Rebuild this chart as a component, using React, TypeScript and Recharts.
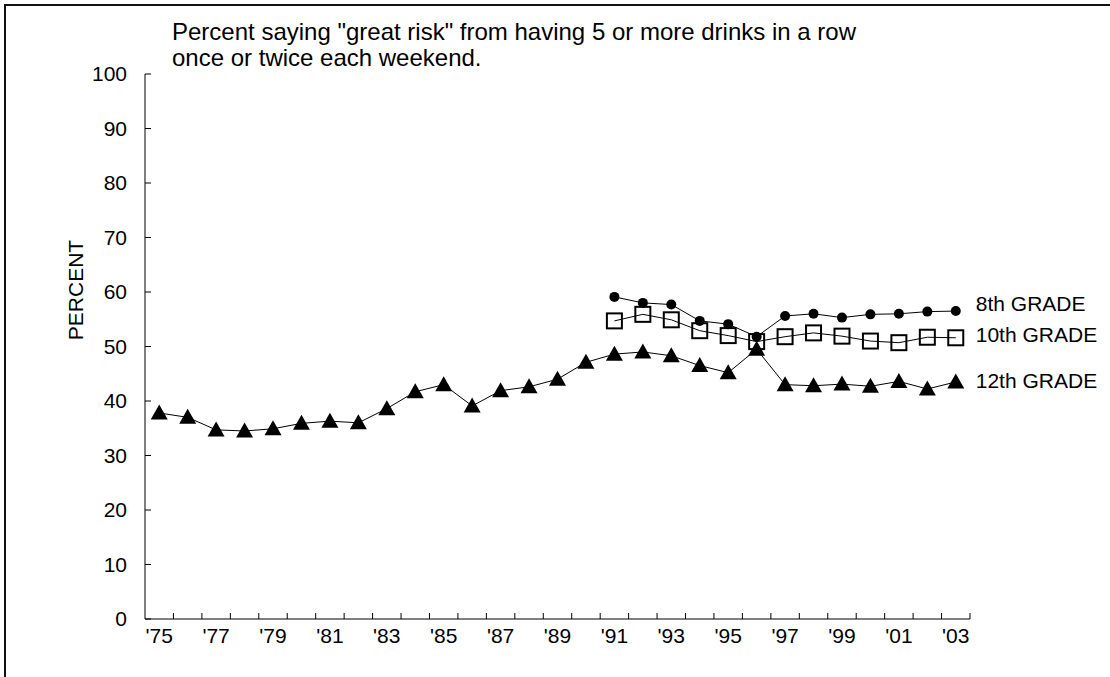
import React from 'react';
import { LineChart, Line, XAxis, YAxis, LabelList, Label } from 'recharts';

const years = [1975, 1976, 1977, 1978, 1979, 1980, 1981, 1982, 1983, 1984, 1985, 1986, 1987, 1988, 1989, 1990, 1991, 1992, 1993, 1994, 1995, 1996, 1997, 1998, 1999, 2000, 2001, 2002, 2003];
const grade12 = [37.8, 37.0, 34.7, 34.5, 34.9, 35.9, 36.3, 36.0, 38.6, 41.7, 43.0, 39.1, 41.9, 42.6, 44.0, 47.1, 48.6, 49.0, 48.3, 46.5, 45.2, 49.5, 43.0, 42.8, 43.1, 42.7, 43.6, 42.2, 43.5];
const grade10 = [null, null, null, null, null, null, null, null, null, null, null, null, null, null, null, null, 54.7, 55.9, 54.9, 52.9, 52.0, 50.9, 51.8, 52.5, 51.9, 51.0, 50.7, 51.7, 51.6];
const grade8 = [null, null, null, null, null, null, null, null, null, null, null, null, null, null, null, null, 59.1, 58.0, 57.7, 54.7, 54.1, 51.8, 55.6, 56.0, 55.3, 55.9, 56.0, 56.4, 56.5];
const yTicks = [0, 10, 20, 30, 40, 50, 60, 70, 80, 90, 100];
const seriesLabels = { g8: '8th GRADE', g10: '10th GRADE', g12: '12th GRADE' };
const titleLines = ['Percent saying "great risk" from having 5 or more drinks in a row', 'once or twice each weekend.'];
const yLabel = 'PERCENT';

const data = years.map((y, i) => ({ year: y, g12: grade12[i], g10: grade10[i], g8: grade8[i] }));

const FONT = '"Liberation Sans", Arial, sans-serif';
const TICK_FS = 21;
const W = 1110;
const H = 677;
const PLOT_LEFT = 145;
const PLOT_RIGHT = 970;
const PLOT_TOP = 74;
const PLOT_BOTTOM = 619;
const Y_AXIS_W = 60;
const X_AXIS_H = 40;
const HALF_BAND = (PLOT_RIGHT - PLOT_LEFT) / years.length / 2;

const XTick = (props: any) => {
  const { x, y, payload } = props;
  const yr = payload.value as number;
  const show = yr % 2 === 1;
  return (
    <g>
      <line x1={x + HALF_BAND} x2={x + HALF_BAND} y1={y} y2={y - 6} stroke="#000" strokeWidth={1} />
      {show && (
        <text x={x} y={y + 24} textAnchor="middle" fontSize={TICK_FS} fontFamily={FONT} fill="#000">
          {"'" + String(yr).slice(2)}
        </text>
      )}
    </g>
  );
};

const YTick = (props: any) => {
  const { x, y, payload } = props;
  return (
    <g>
      <line x1={x} x2={x + 6} y1={y} y2={y} stroke="#000" strokeWidth={1} />
      <text x={x - 18} y={y + 7} textAnchor="end" fontSize={TICK_FS} fontFamily={FONT} fill="#000">
        {payload.value}
      </text>
    </g>
  );
};

const TriDot = (props: any) => {
  const { cx, cy, index } = props;
  if (cx == null || cy == null || props.value == null) return <g key={'t' + index} />;
  return <path key={'t' + index} d={`M${cx},${cy - 8.5} L${cx + 8.5},${cy + 6.5} L${cx - 8.5},${cy + 6.5} Z`} fill="#000" />;
};
const SquareDot = (props: any) => {
  const { cx, cy, index } = props;
  if (cx == null || cy == null || props.value == null) return <g key={'s' + index} />;
  return <rect key={'s' + index} x={cx - 7.5} y={cy - 7.5} width={15} height={15} fill="none" stroke="#000" strokeWidth={2} />;
};
const CircleDot = (props: any) => {
  const { cx, cy, index } = props;
  if (cx == null || cy == null || props.value == null) return <g key={'c' + index} />;
  return <circle key={'c' + index} cx={cx} cy={cy} r={5} fill="#000" />;
};

const makeEndLabel = (text: string, dy: number) => (props: any) => {
  const { x, y, index } = props;
  if (index !== years.length - 1) return null;
  return (
    <text x={x + 20} y={y + dy} fontSize={TICK_FS} fontFamily={FONT} fill="#000">
      {text}
    </text>
  );
};

export default function App() {
  return (
    <div style={{ position: 'fixed', left: 0, top: 0, width: W, height: H, overflow: 'hidden', background: '#fff' }}>
      <div style={{ position: 'absolute', left: 4, top: 4, width: 3000, height: 3000, borderLeft: '2px solid #111', borderTop: '2px solid #111' }} />
      <div style={{ position: 'absolute', left: 172, top: 19, fontFamily: FONT, fontSize: 24, lineHeight: '26px', color: '#000', whiteSpace: 'nowrap' }}>
        {titleLines.map((t) => (
          <div key={t}>{t}</div>
        ))}
      </div>
      <div style={{ position: 'absolute', left: 0, top: 0 }}>
        <LineChart
          width={W}
          height={H}
          data={data}
          margin={{ top: PLOT_TOP, right: W - PLOT_RIGHT, left: PLOT_LEFT - Y_AXIS_W, bottom: H - PLOT_BOTTOM - X_AXIS_H }}
        >
          <XAxis
            dataKey="year"
            type="number"
            domain={[years[0] - 0.5, years[years.length - 1] + 0.5]}
            ticks={years}
            interval={0}
            height={X_AXIS_H}
            tickSize={0}
            tickMargin={0}
            tickLine={false}
            axisLine={{ stroke: '#000', strokeWidth: 1 }}
            tick={(p: any) => <XTick {...p} />}
            allowDataOverflow
          />
          <YAxis
            type="number"
            domain={[0, 100]}
            ticks={yTicks}
            interval={0}
            width={Y_AXIS_W}
            tickSize={0}
            tickMargin={0}
            tickLine={false}
            axisLine={{ stroke: '#000', strokeWidth: 1 }}
            tick={(p: any) => <YTick {...p} />}
          >
            <Label
              content={() => (
                <text x={75} y={290} transform="rotate(-90 75 290)" textAnchor="middle" dominantBaseline="central" fontSize={TICK_FS} fontFamily={FONT} fill="#000">
                  {yLabel}
                </text>
              )}
            />
          </YAxis>
          <Line dataKey="g12" stroke="#000" strokeWidth={1} dot={(p: any) => <TriDot {...p} key={'t' + p.index} />} isAnimationActive={false}>
            <LabelList dataKey="g12" content={makeEndLabel(seriesLabels.g12, 6)} />
          </Line>
          <Line dataKey="g10" stroke="#000" strokeWidth={1} dot={(p: any) => <SquareDot {...p} key={'s' + p.index} />} isAnimationActive={false}>
            <LabelList dataKey="g10" content={makeEndLabel(seriesLabels.g10, 4)} />
          </Line>
          <Line dataKey="g8" stroke="#000" strokeWidth={1} dot={(p: any) => <CircleDot {...p} key={'c' + p.index} />} isAnimationActive={false}>
            <LabelList dataKey="g8" content={makeEndLabel(seriesLabels.g8, 0)} />
          </Line>
        </LineChart>
      </div>
    </div>
  );
}
